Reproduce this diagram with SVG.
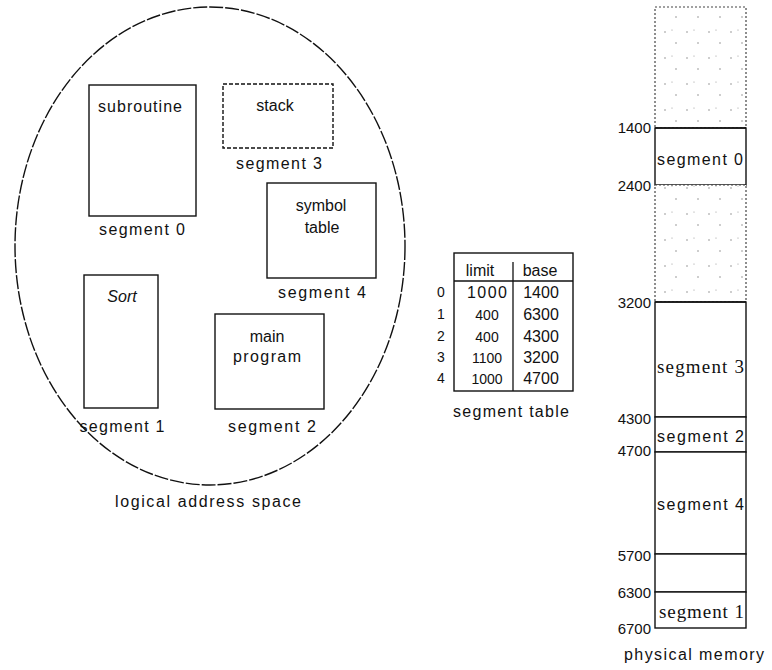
<svg xmlns="http://www.w3.org/2000/svg" width="772" height="670" viewBox="0 0 772 670">
<style>
.t{font-family:"Liberation Sans",Arial,sans-serif;font-size:16px;fill:#111}
.s{font-family:"Liberation Serif","Times New Roman",serif;font-size:19px;fill:#111}
.n{font-family:"Liberation Sans",Arial,sans-serif;font-size:14px;fill:#111}
.p{font-family:"Liberation Sans",Arial,sans-serif;font-size:15px;fill:#111}
.m{text-anchor:middle}
.e{text-anchor:end}
.box{fill:#fff;stroke:#111;stroke-width:1.4}
.ln{stroke:#111;stroke-width:1.3;fill:none}
.hole{fill:url(#dots);stroke:#444;stroke-width:1.2;stroke-dasharray:2 2}
</style>
<defs>
<pattern id="dots" width="22" height="26" patternUnits="userSpaceOnUse">
<rect width="22" height="26" fill="#fff"/>
<circle cx="5" cy="6" r="0.7" fill="#777"/>
<circle cx="16" cy="17" r="0.7" fill="#777"/>
<circle cx="12" cy="4" r="0.6" fill="#999"/>
</pattern>
</defs>
<rect width="772" height="670" fill="#fff"/>

<g id="logical-space">
<ellipse cx="210" cy="246" rx="195" ry="239" fill="#fff" stroke="#111" stroke-width="1.4" stroke-dasharray="14 2"/>
<text class="t m" x="208" y="507" textLength="186" lengthAdjust="spacing">logical address space</text>
</g>

<g id="seg0-subroutine">
<rect class="box" x="89" y="85" width="107" height="131"/>
<text class="t m" x="140" y="112" textLength="84" lengthAdjust="spacing">subroutine</text>
<text class="t m" x="142" y="235" textLength="86" lengthAdjust="spacing">segment 0</text>
</g>

<g id="seg3-stack">
<rect class="box" x="223" y="84" width="110" height="64" stroke-dasharray="4 2"/>
<text class="t m" x="275" y="111">stack</text>
<text class="t m" x="279" y="169" textLength="86" lengthAdjust="spacing">segment 3</text>
</g>

<g id="seg4-symbol-table">
<rect class="box" x="267" y="183" width="109" height="95"/>
<text class="t m" x="321" y="211">symbol</text>
<text class="t m" x="322" y="233">table</text>
<text class="t m" x="322" y="298" textLength="88" lengthAdjust="spacing">segment 4</text>
</g>

<g id="seg1-sort">
<rect class="box" x="84" y="275" width="74" height="133"/>
<text class="t m" x="122" y="302" font-style="italic">Sort</text>
<text class="t m" x="122" y="432" textLength="85" lengthAdjust="spacing">segment 1</text>
</g>

<g id="seg2-main">
<rect class="box" x="215" y="314" width="109" height="95"/>
<text class="t m" x="267" y="342">main</text>
<text class="t m" x="267" y="362" textLength="68" lengthAdjust="spacing">program</text>
<text class="t m" x="272" y="432" textLength="88" lengthAdjust="spacing">segment 2</text>
</g>

<g id="segment-table">
<rect class="box" x="454" y="253" width="119" height="138"/>
<line class="ln" x1="454" y1="281" x2="573" y2="281"/>
<line class="ln" x1="513" y1="262" x2="513" y2="391" stroke-width="1.6"/>
<text class="t m" x="480" y="276">limit</text>
<text class="t m" x="540" y="276">base</text>
<text class="n m" x="441" y="297">0</text>
<text class="n m" x="441" y="319">1</text>
<text class="n m" x="441" y="341">2</text>
<text class="n m" x="441" y="362">3</text>
<text class="n m" x="441" y="383">4</text>
<text class="t m" x="487" y="298" textLength="40" lengthAdjust="spacing">1000</text>
<text class="n m" x="487" y="320">400</text>
<text class="n m" x="487" y="342">400</text>
<text class="n m" x="487" y="363">1100</text>
<text class="n m" x="487" y="384">1000</text>
<text class="t m" x="541" y="298">1400</text>
<text class="t m" x="541" y="320">6300</text>
<text class="t m" x="541" y="342">4300</text>
<text class="t m" x="541" y="363">3200</text>
<text class="t m" x="541" y="384">4700</text>
<text class="t m" x="511" y="417" textLength="116" lengthAdjust="spacing">segment table</text>
</g>

<g id="physical-memory">
<rect class="hole" x="655" y="7" width="91" height="121"/>
<rect class="box" x="655" y="128" width="91" height="57"/>
<rect class="hole" x="655" y="185" width="91" height="117"/>
<rect class="box" x="655" y="302" width="91" height="115" stroke-width="2"/>
<rect class="box" x="655" y="417" width="91" height="35"/>
<rect class="box" x="655" y="452" width="91" height="102"/>
<rect class="box" x="655" y="554" width="91" height="38"/>
<rect class="box" x="655" y="592" width="91" height="36"/>
<line class="ln" x1="655" y1="128" x2="746" y2="128" stroke-width="2"/>
<line class="ln" x1="655" y1="302" x2="746" y2="302" stroke-width="2.2"/>
<text class="t" x="657" y="165" textLength="86" lengthAdjust="spacing">segment 0</text>
<text class="s" x="657" y="373" textLength="87" lengthAdjust="spacing">segment 3</text>
<text class="t" x="657" y="442" textLength="87" lengthAdjust="spacing">segment 2</text>
<text class="t" x="657" y="510" textLength="87" lengthAdjust="spacing">segment 4</text>
<text class="s" x="659" y="618" textLength="85" lengthAdjust="spacing">segment 1</text>
<text class="p e" x="651" y="133">1400</text>
<text class="p e" x="651" y="191">2400</text>
<text class="p e" x="651" y="308">3200</text>
<text class="p e" x="651" y="424">4300</text>
<text class="p e" x="651" y="456">4700</text>
<text class="p e" x="651" y="561">5700</text>
<text class="p e" x="651" y="598">6300</text>
<text class="p e" x="651" y="634">6700</text>
<text class="t m" x="694" y="660" textLength="140" lengthAdjust="spacing">physical memory</text>
</g>
</svg>
